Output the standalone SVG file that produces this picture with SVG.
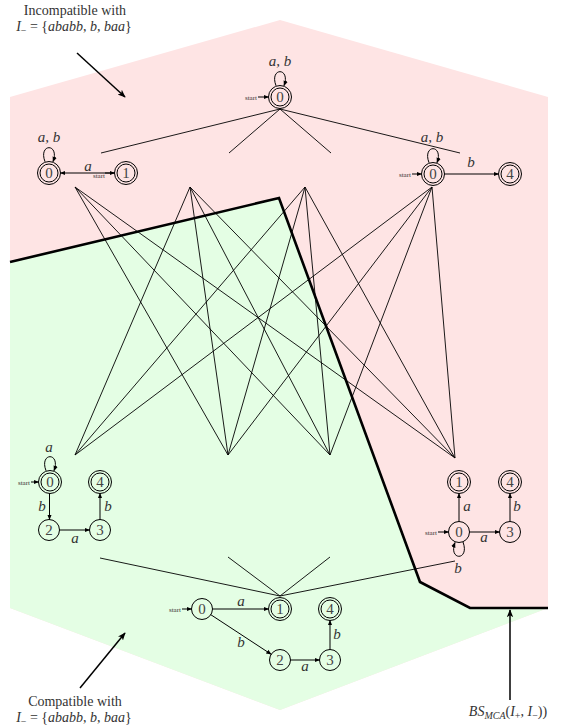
<svg xmlns="http://www.w3.org/2000/svg" width="561" height="728" viewBox="0 0 561 728">
<defs>
<marker id="ah" viewBox="0 0 10 10" refX="9" refY="5" markerWidth="5.5" markerHeight="5.5" orient="auto" markerUnits="userSpaceOnUse"><path d="M0,1 L10,5 L0,9 z" fill="#000"/></marker>
<marker id="big" viewBox="0 0 10 10" refX="9" refY="5" markerWidth="8" markerHeight="8" orient="auto" markerUnits="userSpaceOnUse"><path d="M0,1 L10,5 L0,9 L2.5,5 z" fill="#000"/></marker>
<g id="acc"><circle r="11.5" fill="none" stroke="#000" stroke-width="1"/><circle r="9" fill="none" stroke="#000" stroke-width="1"/></g>
<g id="sgl"><circle r="10.5" fill="none" stroke="#000" stroke-width="1"/></g>
<style>
.e{fill:none;stroke:#000;stroke-width:1;marker-end:url(#ah)}
.lat{fill:none;stroke:#000;stroke-width:0.9}
.num{font-family:"Liberation Serif",serif;font-size:15px;fill:#444;text-anchor:middle}
.lbl{font-family:"Liberation Serif",serif;font-style:italic;font-size:15px;fill:#333;text-anchor:middle}
.start{font-family:"Liberation Serif",serif;font-size:7px;fill:#333;text-anchor:end}
.ann{font-family:"Liberation Serif",serif;font-size:14px;fill:#333;text-anchor:middle}
.it{font-style:italic}
.arr{fill:none;stroke:#000;stroke-width:1.5;marker-end:url(#big)}
</style>
</defs>

<g id="regions">
<polygon points="10,97 280,20 548,97 548,608 280,710 10,608" fill="#fee4e4"/>
<polygon points="10,262 279,198 420,582 470,608 548,608 280,710 10,608" fill="#e4fee4"/>
<polyline points="10,262 279,198 420,582 470,608 548,608" fill="none" stroke="#000" stroke-width="2.6"/>
</g>

<g id="connectors">
<line class="lat" x1="280" y1="109" x2="101" y2="153"/>
<line class="lat" x1="280" y1="109" x2="229" y2="153"/>
<line class="lat" x1="280" y1="109" x2="331" y2="153"/>
<line class="lat" x1="280" y1="109" x2="460" y2="153"/>

<line class="lat" x1="75" y1="187" x2="228" y2="455"/>
<line class="lat" x1="75" y1="187" x2="330" y2="455"/>
<line class="lat" x1="75" y1="187" x2="455" y2="458"/>
<line class="lat" x1="190" y1="187" x2="75" y2="455"/>
<line class="lat" x1="190" y1="187" x2="228" y2="455"/>
<line class="lat" x1="190" y1="187" x2="330" y2="455"/>
<line class="lat" x1="190" y1="187" x2="455" y2="458"/>
<line class="lat" x1="305" y1="187" x2="75" y2="455"/>
<line class="lat" x1="305" y1="187" x2="228" y2="455"/>
<line class="lat" x1="305" y1="187" x2="330" y2="455"/>
<line class="lat" x1="305" y1="187" x2="455" y2="458"/>
<line class="lat" x1="432" y1="187" x2="75" y2="455"/>
<line class="lat" x1="432" y1="187" x2="228" y2="455"/>
<line class="lat" x1="432" y1="187" x2="330" y2="455"/>
<line class="lat" x1="432" y1="187" x2="455" y2="458"/>

<line class="lat" x1="280" y1="596" x2="100" y2="558"/>
<line class="lat" x1="280" y1="596" x2="228" y2="557"/>
<line class="lat" x1="280" y1="596" x2="330" y2="557"/>
<line class="lat" x1="280" y1="596" x2="455" y2="561"/>
</g>

<g id="n_top">
<use href="#acc" x="280" y="97"/>
<text class="num" x="280" y="102">0</text>
<path class="e" d="M276,85.7 C269,67 291,67 284,85.7"/>
<text class="lbl" x="280" y="66">a, b</text>
<text class="start" x="257" y="99.5">start</text>
<line class="e" x1="258" y1="97" x2="268.5" y2="97"/>
</g>

<g id="n_left">
<use href="#acc" x="49" y="173"/>
<text class="num" x="49" y="178">0</text>
<use href="#acc" x="126" y="173"/>
<text class="num" x="126" y="178">1</text>
<path class="e" d="M45,161.7 C38,143 60,143 53,161.7"/>
<text class="lbl" x="49" y="142">a, b</text>
<line class="e" x1="114.5" y1="173" x2="60.5" y2="173"/>
<text class="lbl" x="88" y="171">a</text>
<text class="start" x="105" y="177.5">start</text>
<line class="e" x1="105" y1="173" x2="114.5" y2="173"/>
</g>

<g id="n_right">
<use href="#acc" x="433" y="174"/>
<text class="num" x="433" y="179">0</text>
<use href="#acc" x="510" y="174"/>
<text class="num" x="510" y="179">4</text>
<path class="e" d="M429,162.7 C422,144 444,144 437,162.7"/>
<text class="lbl" x="432" y="142">a, b</text>
<text class="start" x="411" y="176.5">start</text>
<line class="e" x1="412" y1="174" x2="421.5" y2="174"/>
<line class="e" x1="444.5" y1="174" x2="498.5" y2="174"/>
<text class="lbl" x="471" y="167">b</text>
</g>

<g id="n_bl">
<use href="#acc" x="50" y="482"/>
<text class="num" x="50" y="487">0</text>
<use href="#acc" x="100" y="482"/>
<text class="num" x="100" y="487">4</text>
<use href="#sgl" x="49" y="530"/>
<text class="num" x="49" y="535">2</text>
<use href="#sgl" x="100" y="530"/>
<text class="num" x="100" y="535">3</text>
<path class="e" d="M46,470.7 C39,452 61,452 54,470.7"/>
<text class="lbl" x="49" y="452">a</text>
<text class="start" x="30" y="484.5">start</text>
<line class="e" x1="31" y1="482" x2="38.5" y2="482"/>
<line class="e" x1="49.5" y1="493.5" x2="49.5" y2="519.5"/>
<text class="lbl" x="42" y="511">b</text>
<line class="e" x1="59.5" y1="530" x2="89.5" y2="530"/>
<text class="lbl" x="75" y="543">a</text>
<line class="e" x1="100" y1="519.5" x2="100" y2="493.5"/>
<text class="lbl" x="108" y="511">b</text>
</g>

<g id="n_br">
<use href="#acc" x="459" y="482"/>
<text class="num" x="459" y="487">1</text>
<use href="#acc" x="510" y="482"/>
<text class="num" x="510" y="487">4</text>
<use href="#sgl" x="459" y="532"/>
<text class="num" x="459" y="537">0</text>
<use href="#sgl" x="510" y="532"/>
<text class="num" x="510" y="537">3</text>
<line class="e" x1="459" y1="521.5" x2="459" y2="493.5"/>
<text class="lbl" x="467" y="511">a</text>
<line class="e" x1="469.5" y1="532" x2="499.5" y2="532"/>
<text class="lbl" x="484" y="542">a</text>
<line class="e" x1="510" y1="521.5" x2="510" y2="493.5"/>
<text class="lbl" x="517" y="511">b</text>
<path class="e" d="M463,542 C470,561 448,561 455,542.5"/>
<text class="lbl" x="458" y="573">b</text>
<text class="start" x="437" y="534.5">start</text>
<line class="e" x1="438" y1="532" x2="448.5" y2="532"/>
</g>

<g id="n_bottom">
<use href="#sgl" x="202" y="609"/>
<text class="num" x="202" y="614">0</text>
<use href="#acc" x="280" y="609"/>
<text class="num" x="280" y="614">1</text>
<use href="#acc" x="330" y="609"/>
<text class="num" x="330" y="614">4</text>
<use href="#sgl" x="280" y="660"/>
<text class="num" x="280" y="665">2</text>
<use href="#sgl" x="330" y="660"/>
<text class="num" x="330" y="665">3</text>
<text class="start" x="181" y="611.5">start</text>
<line class="e" x1="182" y1="609" x2="191.5" y2="609"/>
<line class="e" x1="212.5" y1="609" x2="268.5" y2="609"/>
<text class="lbl" x="241" y="606">a</text>
<line class="e" x1="210.8" y1="614.7" x2="271.2" y2="654.3"/>
<text class="lbl" x="241" y="647">b</text>
<line class="e" x1="290.5" y1="660" x2="319.5" y2="660"/>
<text class="lbl" x="305" y="671">a</text>
<line class="e" x1="330" y1="649.5" x2="330" y2="620.5"/>
<text class="lbl" x="337" y="639">b</text>
</g>

<g id="annotations">
<text class="ann" x="75" y="15">Incompatible with</text>
<text class="ann" x="74" y="31" font-size="15"><tspan class="it">I</tspan><tspan font-size="10" dy="3">−</tspan><tspan dy="-3"> = {</tspan><tspan class="it">ababb</tspan>, <tspan class="it">b</tspan>, <tspan class="it">baa</tspan>}</text>
<line class="arr" x1="77" y1="53" x2="125" y2="97"/>
<text class="ann" x="75" y="706">Compatible with</text>
<text class="ann" x="74" y="722" font-size="15"><tspan class="it">I</tspan><tspan font-size="10" dy="3">−</tspan><tspan dy="-3"> = {</tspan><tspan class="it">ababb</tspan>, <tspan class="it">b</tspan>, <tspan class="it">baa</tspan>}</text>
<line class="arr" x1="80" y1="688" x2="125" y2="633"/>
<text class="ann" x="508" y="716" font-size="15"><tspan class="it">BS</tspan><tspan class="it" font-size="10" dy="3">MCA</tspan><tspan dy="-3">(</tspan><tspan class="it">I</tspan><tspan font-size="10" dy="3">+</tspan><tspan dy="-3">, </tspan><tspan class="it">I</tspan><tspan font-size="10" dy="3">−</tspan><tspan dy="-3">))</tspan></text>
<line class="arr" x1="510" y1="700" x2="510" y2="610"/>
</g>
</svg>
